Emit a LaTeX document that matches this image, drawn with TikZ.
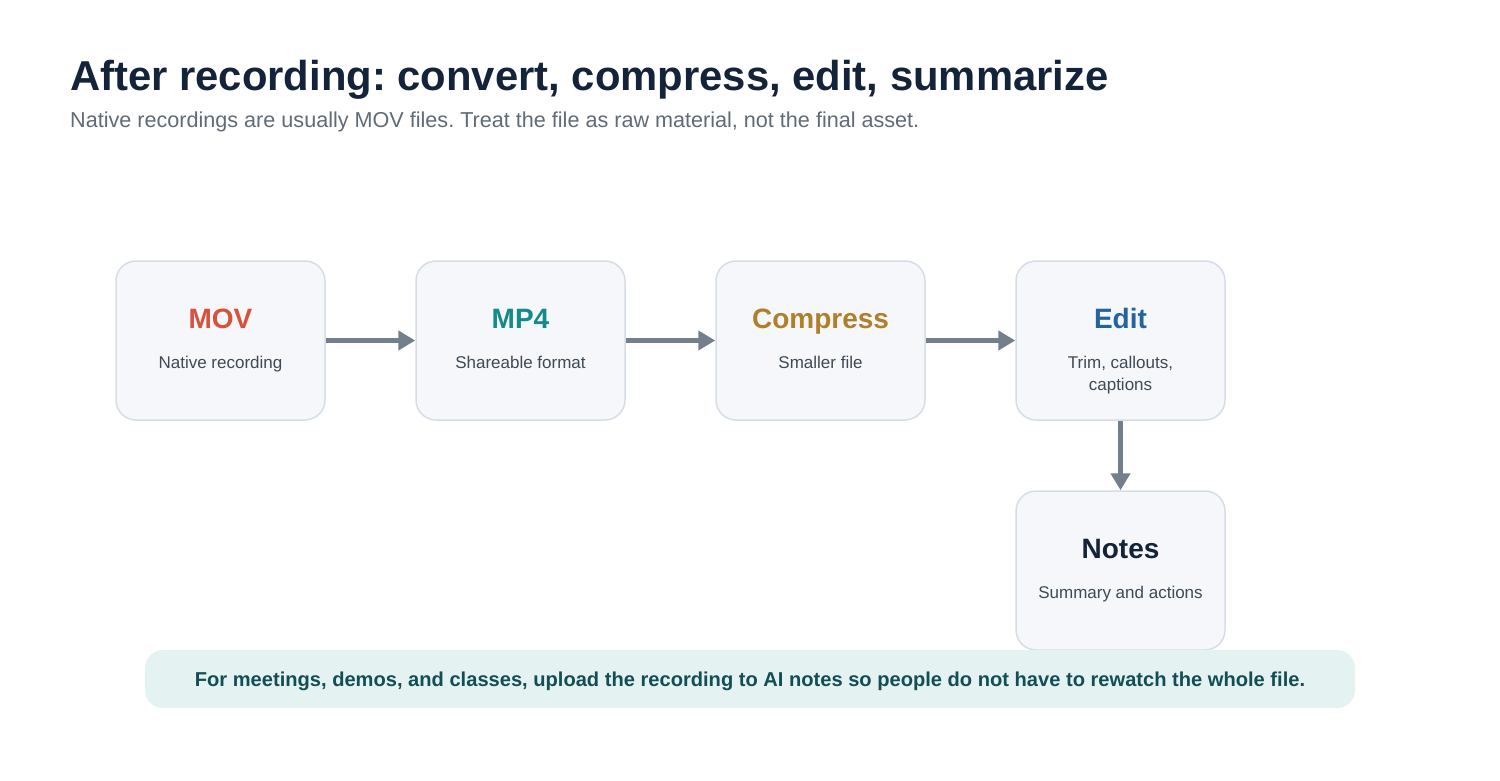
\documentclass[tikz,border=0pt]{standalone}
\usepackage{fontspec}
\setmainfont{Liberation Sans}
\usetikzlibrary{arrows.meta}
\definecolor{titlec}{HTML}{13233A}
\definecolor{subc}{HTML}{5F6B77}
\definecolor{boxfill}{HTML}{F5F7FA}
\definecolor{boxline}{HTML}{D5DEE6}
\definecolor{arrowc}{HTML}{737F8C}
\definecolor{descc}{HTML}{3F4A56}
\definecolor{movc}{HTML}{D9513C}
\definecolor{mpc}{HTML}{158A8A}
\definecolor{compc}{HTML}{B07F2A}
\definecolor{editc}{HTML}{2563A0}
\definecolor{bannerfill}{HTML}{E4F3F2}
\definecolor{bannertext}{HTML}{134E55}
\frenchspacing
\tikzset{
  stagebox/.style={draw=boxline, line width=1.5pt, fill=boxfill, rounded corners=20pt, minimum width=209pt, minimum height=159pt, inner sep=0pt},
  headtext/.style={font=\fontsize{28}{32}\selectfont\bfseries, anchor=base},
  desctext/.style={font=\fontsize{17}{22}\selectfont, text=descc, anchor=base, align=center},
  flow/.style={draw=arrowc, line width=5pt, -{Triangle[length=17pt,width=19pt]}}
}
\begin{document}
\begin{tikzpicture}[x=1pt,y=-1pt]
\useasboundingbox (0,0) rectangle (1500,780);
\node[anchor=base west, font=\fontsize{41.8}{46}\selectfont\bfseries, text=titlec, inner sep=0pt] (title) at (70,90) {After recording: convert, compress, edit, summarize};
\node[anchor=base west, font=\fontsize{21.6}{26}\selectfont, text=subc, inner sep=0pt] (subtitle) at (70,127) {Native recordings are usually MOV files. Treat the file as raw material, not the final asset.};
% boxes
\node[stagebox] (mov) at (220.5,340.5) {};
\node[stagebox] (mp4) at (520.5,340.5) {};
\node[stagebox] (comp) at (820.5,340.5) {};
\node[stagebox] (edit) at (1120.5,340.5) {};
\node[stagebox] (notes) at (1120.5,570.5) {};
% labels
\node[headtext, text=movc] (movh) at (220.5,328) {MOV};
\node[desctext] (movd) at (220.5,368) {Native recording};
\node[headtext, text=mpc] (mp4h) at (520.5,328) {MP4};
\node[desctext] (mp4d) at (520.5,368) {Shareable format};
\node[headtext, text=compc] (comph) at (820.5,328) {Compress};
\node[desctext] (compd) at (820.5,368) {Smaller file};
\node[headtext, text=editc] (edith) at (1120.5,328) {Edit};
\node[desctext, anchor=base] (editd1) at (1120.5,368) {Trim, callouts,};
\node[desctext, anchor=base] (editd2) at (1120.5,390) {captions};
\node[headtext, text=titlec] (notesh) at (1120.5,558) {Notes};
\node[desctext] (notesd) at (1120.5,598) {Summary and actions};
% arrows
\draw[flow] (mov.east) -- (mp4.west);
\draw[flow] (mp4.east) -- (comp.west);
\draw[flow] (comp.east) -- (edit.west);
\draw[flow] (edit.south) -- (notes.north);
% banner
\node[fill=bannerfill, rounded corners=18pt, minimum width=1210pt, minimum height=58pt, inner sep=0pt] (banner) at (750,679) {};
\node[anchor=base, font=\fontsize{20.1}{24}\selectfont\bfseries, text=bannertext, inner sep=0pt] (bannerlabel) at (750,686) {For meetings, demos, and classes, upload the recording to AI notes so people do not have to rewatch the whole file.};
\end{tikzpicture}
\end{document}
